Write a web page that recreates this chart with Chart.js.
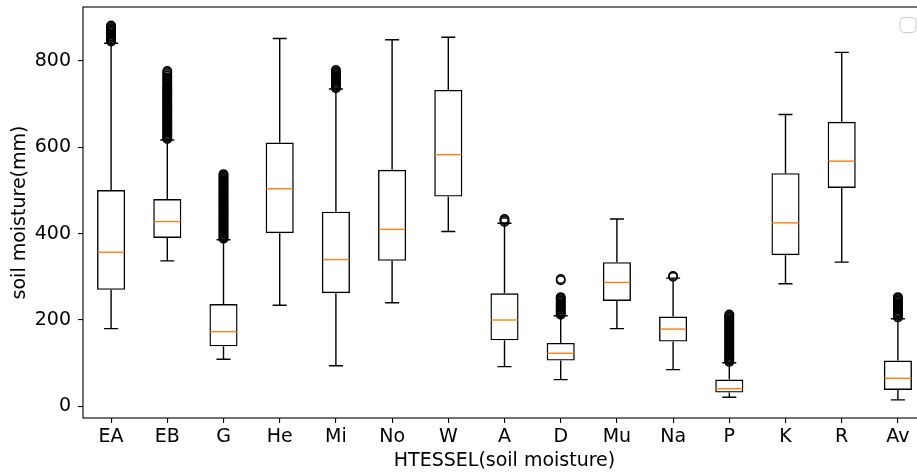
<!DOCTYPE html>
<html>
<head>
<meta charset="utf-8">
<script src="https://cdn.jsdelivr.net/npm/chart.js@4.4.1/dist/chart.umd.min.js"></script>
<style>
  html, body { margin: 0; padding: 0; background: #fff; overflow: hidden; }
  #wrap { width: 917px; height: 475px; overflow: hidden; position: relative; }
  #boxChart { display: block; position: absolute; left: 0; top: 0; }
</style>
</head>
<body>
<div id="wrap"><canvas id="boxChart" width="940" height="475"></canvas></div>
<script>
// box plot of soil moisture per region
const categories  = ['EA','EB','G','He','Mi','No','W','A','D','Mu','Na','P','K','R','Av'];
const whiskerLow  = [180, 337, 109, 234,  94, 240, 405,  92,  62, 180,  85,  21, 284, 334,  15];
const q1          = [270, 390, 139, 401, 262, 337, 486, 153, 106, 244, 150,  32, 350, 506,  38];
const median      = [357, 428, 173, 504, 340, 410, 583, 200, 123, 287, 179,  41, 425, 568,  65];
const q3          = [501, 480, 237, 611, 451, 548, 733, 262, 147, 334, 208,  62, 540, 659, 106];
const whiskerHigh = [841, 617, 386, 852, 735, 849, 855, 424, 210, 434, 297, 101, 676, 820, 203];

// fliers, one list per category
const outliers = [
  [845, 848, 850, 853, 856, 858, 861, 864, 867, 870, 873, 876, 879, 882],
  [619, 622, 625, 628, 631, 634, 637, 640, 643, 646, 649, 652, 655, 658, 661, 664, 667, 670,
   673, 676, 679, 682, 685, 688, 691, 694, 697, 700, 703, 706, 709, 712, 715, 718, 721, 724,
   727, 730, 733, 736, 739, 742, 746, 750, 754, 758, 762, 766, 770, 774, 777],
  [388, 391, 394, 397, 400, 403, 406, 409, 412, 415, 418, 421, 424, 427, 430, 433, 436, 439,
   442, 445, 448, 451, 454, 457, 460, 463, 466, 469, 472, 475, 478, 481, 484, 487, 490, 493,
   496, 499, 502, 505, 508, 511, 514, 517, 520, 523, 526, 529, 532, 535, 538],
  [],
  [737, 740, 743, 746, 749, 752, 755, 758, 761, 764, 767, 770, 773, 776, 779],
  [],
  [],
  [427, 431, 434],
  [212, 215, 218, 221, 224, 227, 230, 233, 236, 239, 242, 245, 248, 251, 253, 292, 295],
  [],
  [300, 302],
  [103, 106, 109, 112, 115, 118, 121, 124, 127, 130, 133, 136, 139, 142, 145, 148, 151, 154,
   157, 160, 163, 166, 169, 172, 175, 178, 181, 184, 187, 190, 193, 196, 199, 202, 205, 208,
   211, 213],
  [],
  [],
  [206, 209, 212, 215, 218, 221, 224, 227, 230, 233, 236, 239, 242, 245, 248, 251, 253]
];

const yTicks = [0, 200, 400, 600, 800];
const yMin = -27;
const yMax = 925;

const FONT = 'DejaVu Sans';
const MEDIAN_COLOR = '#ff7f0e';
const LINE_W = 1.4;

// whiskers, caps, medians, frame and the empty legend box
const boxParts = {
  id: 'boxParts',
  afterDatasetsDraw(chart) {
    const { ctx, scales: { x, y } } = chart;
    const bars = chart.getDatasetMeta(0).data;
    ctx.save();
    ctx.lineWidth = LINE_W;
    categories.forEach((c, i) => {
      const cx = x.getPixelForValue(i);
      const halfBox = bars[i].width / 2;
      const halfCap = halfBox / 2;
      const yq1 = y.getPixelForValue(q1[i]);
      const yq3 = y.getPixelForValue(q3[i]);
      const ylo = y.getPixelForValue(whiskerLow[i]);
      const yhi = y.getPixelForValue(whiskerHigh[i]);
      ctx.strokeStyle = '#000';
      ctx.beginPath();
      ctx.moveTo(cx, yq1); ctx.lineTo(cx, ylo);
      ctx.moveTo(cx, yq3); ctx.lineTo(cx, yhi);
      ctx.moveTo(cx - halfCap, ylo); ctx.lineTo(cx + halfCap, ylo);
      ctx.moveTo(cx - halfCap, yhi); ctx.lineTo(cx + halfCap, yhi);
      ctx.stroke();
      const ym = y.getPixelForValue(median[i]);
      ctx.strokeStyle = MEDIAN_COLOR;
      ctx.beginPath();
      ctx.moveTo(cx - halfBox + 0.7, ym); ctx.lineTo(cx + halfBox - 0.7, ym);
      ctx.stroke();
    });
    ctx.restore();
  },
  afterDraw(chart) {
    const { ctx, chartArea: a } = chart;
    ctx.save();
    ctx.strokeStyle = '#000';
    ctx.lineWidth = 1.1;
    ctx.strokeRect(a.left, a.top, a.right - a.left, a.bottom - a.top);
    // empty legend frame, top right
    ctx.strokeStyle = '#cccccc';
    ctx.fillStyle = 'rgba(255,255,255,0.8)';
    ctx.lineWidth = 1;
    ctx.beginPath();
    ctx.roundRect(a.right - 26, a.top + 10.5, 16, 15, 4);
    ctx.fill();
    ctx.stroke();
    ctx.restore();
  }
};

const ctx = document.getElementById('boxChart');
new Chart(ctx, {
  type: 'bar',
  data: {
    labels: categories,
    datasets: [
      {
        label: 'box',
        data: categories.map((c, i) => [q1[i], q3[i]]),
        backgroundColor: 'rgba(0,0,0,0)',
        borderColor: '#000',
        borderWidth: LINE_W,
        borderSkipped: false,
        barPercentage: 0.5,
        categoryPercentage: 1.0
      },
      {
        type: 'line',
        label: 'fliers',
        data: outliers.flatMap((arr, i) => arr.map(v => ({ x: categories[i], y: v }))),
        showLine: false,
        pointRadius: 4.2,
        pointBorderWidth: 1.5,
        pointBorderColor: '#000',
        pointBackgroundColor: 'rgba(0,0,0,0)'
      }
    ]
  },
  options: {
    responsive: false,
    animation: false,
    layout: { padding: { top: 7, right: 14, left: 0, bottom: 0 } },
    plugins: {
      legend: { display: false },
      tooltip: { enabled: false }
    },
    scales: {
      x: {
        offset: true,
        grid: { display: true, offset: false, drawOnChartArea: false, drawTicks: true, tickLength: 5, color: '#000', lineWidth: 1.1 },
        border: { display: false },
        ticks: { color: '#000', padding: 3, font: { family: FONT, size: 19 } },
        title: { display: true, text: 'HTESSEL(soil moisture)', color: '#000', padding: { top: 0, bottom: 3 }, font: { family: FONT, size: 19 } },
        afterFit: s => { s.height = 57; s.paddingLeft = 0; s.paddingRight = 0; }
      },
      y: {
        min: yMin,
        max: yMax,
        grid: { display: true, drawOnChartArea: false, drawTicks: true, tickLength: 5, color: '#000', lineWidth: 1.1 },
        border: { display: false },
        ticks: { color: '#000', padding: 7, font: { family: FONT, size: 19 } },
        afterBuildTicks: s => { s.ticks = yTicks.map(v => ({ value: v })); },
        title: { display: true, text: 'soil moisture(mm)', color: '#000', padding: { top: 9, bottom: 0 }, font: { family: FONT, size: 19 } },
        afterFit: s => { s.width = 83; s.paddingTop = 0; s.paddingBottom = 0; }
      }
    }
  },
  plugins: [boxParts]
});
</script>
</body>
</html>
